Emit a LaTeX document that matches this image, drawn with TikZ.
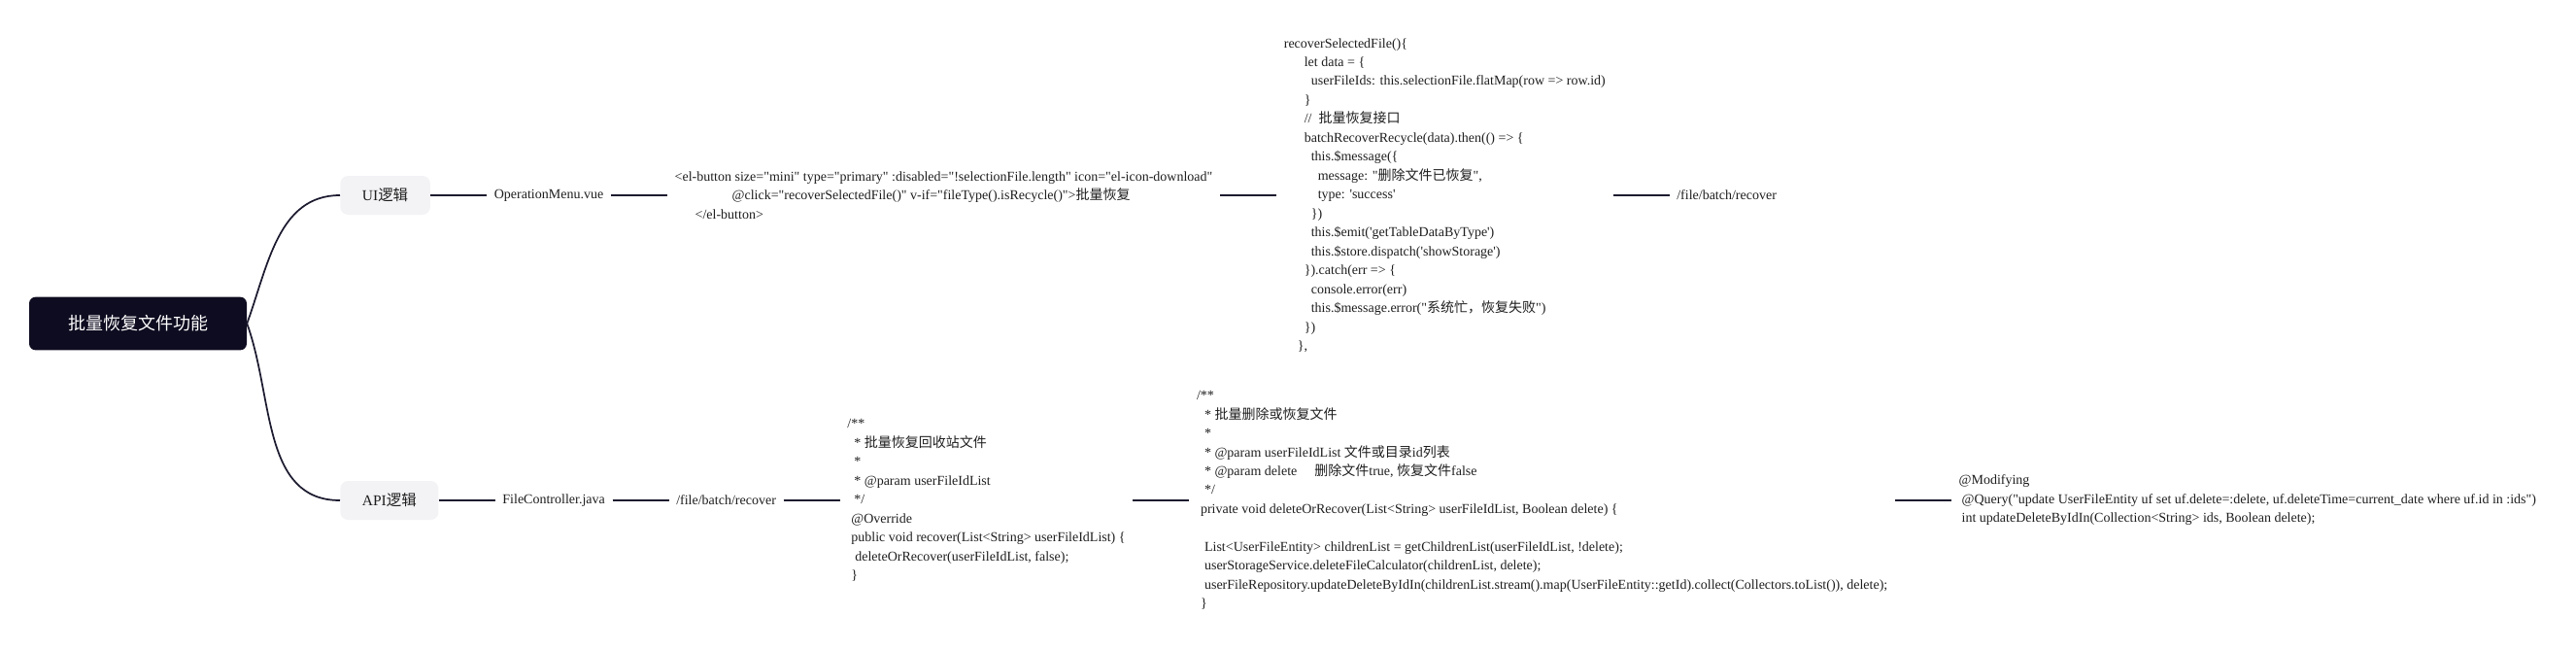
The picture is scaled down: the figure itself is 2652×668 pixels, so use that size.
\documentclass[tikz,border=0pt]{standalone}
\usepackage{fontspec}
\setmainfont{Liberation Serif}[Ligatures=TeXOff]
\newfontfamily\cjk{Noto Sans CJK SC}
\usepackage{xcolor}
\usetikzlibrary{positioning}

\definecolor{rootfill}{HTML}{0E0C20}
\definecolor{branchfill}{HTML}{F3F3F6}
\definecolor{linkcol}{HTML}{1C1B30}
\definecolor{codecol}{HTML}{1E1E1E}

\newlength{\pxu}
\setlength{\pxu}{0.75pt}
\newcommand{\zh}[1]{{\cjk #1}}
\newcommand{\ind}[1]{\hspace*{#1\pxu}}

\begin{document}
\begin{tikzpicture}[
    x=0.75pt, y=-0.75pt,
    node distance=43.5pt,
    rootbox/.style={rectangle, fill=rootfill, rounded corners=5pt, minimum width=168pt, minimum height=41pt, text=white, font=\cjk\fontsize{13.5}{16}\selectfont},
    branch/.style={rectangle, fill=branchfill, rounded corners=6pt, minimum height=30pt, inner xsep=17pt, text=codecol, font=\fontsize{11.6}{14}\selectfont},
    code/.style={rectangle, inner xsep=5.6pt, inner ysep=1pt, align=left, text=codecol, font=\fontsize{10.5}{14.6}\selectfont},
    link/.style={draw=linkcol, line width=1.5pt},
    twig/.style={draw=linkcol, line width=1.3pt}
]
    \useasboundingbox (0,0) rectangle (2652,668);

    \node [rootbox] (root) at (142,333) {批量恢复文件功能};
    \node [branch, anchor=west] (ui) at (350,201) {UI\zh{逻辑}};
    \node [branch, anchor=west] (api) at (350,515) {API\zh{逻辑}};

    % UI side
    \node [code, right=of ui] (opm) {OperationMenu.vue};
    \node [code, right=of opm] (btn) {<el-button size="mini" type="primary" :disabled="!selectionFile.length" icon="el-icon-download"\\
        \ind{59}@click="recoverSelectedFile()" v-if="fileType().isRecycle()">\zh{批量恢复}\\
        \ind{21}</el-button>};
    \node [code, right=of btn] (rsf) {recoverSelectedFile()\{\\
        \ind{21}let data = \{\\
        \ind{28}userFileIds: this.selectionFile.flatMap(row => row.id)\\
        \ind{21}\}\\
        \ind{21}//\ \ \zh{批量恢复接口}\\
        \ind{21}batchRecoverRecycle(data).then(() => \{\\
        \ind{28}this.\$message(\{\\
        \ind{35}message: "\zh{删除文件已恢复}",\\
        \ind{35}type: 'success'\\
        \ind{28}\})\\
        \ind{28}this.\$emit('getTableDataByType')\\
        \ind{28}this.\$store.dispatch('showStorage')\\
        \ind{21}\}).catch(err => \{\\
        \ind{28}console.error(err)\\
        \ind{28}this.\$message.error("\zh{系统忙，恢复失败}")\\
        \ind{21}\})\\
        \ind{14}\},};
    \node [code, right=of rsf] (urlui) {/file/batch/recover};

    % API side
    \node [code, right=of api] (fctl) {FileController.java};
    \node [code, right=of fctl] (urlapi) {/file/batch/recover};
    \node [code, right=of urlapi] (rec) {/**\\
        \ind{7}* \zh{批量恢复回收站文件}\\
        \ind{7}*\\
        \ind{7}* @param userFileIdList\\
        \ind{7}*/\\
        \ind{4}@Override\\
        \ind{4}public void recover(List<String> userFileIdList) \{\\
        \ind{8}deleteOrRecover(userFileIdList, false);\\
        \ind{4}\}};
    \node [code, right=of rec] (dor) {/**\\
        \ind{8}* \zh{批量删除或恢复文件}\\
        \ind{8}*\\
        \ind{8}* @param userFileIdList \zh{文件或目录}id\zh{列表}\\
        \ind{8}* @param delete\ind{18}\zh{删除文件}true, \zh{恢复文件}false\\
        \ind{8}*/\\
        \ind{4}private void deleteOrRecover(List<String> userFileIdList, Boolean delete) \{\\
        \mbox{}\\
        \ind{8}List<UserFileEntity> childrenList = getChildrenList(userFileIdList, !delete);\\
        \ind{8}userStorageService.deleteFileCalculator(childrenList, delete);\\
        \ind{8}userFileRepository.updateDeleteByIdIn(childrenList.stream().map(UserFileEntity::getId).collect(Collectors.toList()), delete);\\
        \ind{4}\}};
    \node [code, right=of dor] (upd) {@Modifying\\
        \ind{3}@Query("update UserFileEntity uf set uf.delete=:delete, uf.deleteTime=current\_date where uf.id in :ids")\\
        \ind{3}int updateDeleteByIdIn(Collection<String> ids, Boolean delete);};

    \draw [twig] (root.east) to[out=70, in=180] (ui.west);
    \draw [twig] (root.east) to[out=-70, in=180] (api.west);

    \draw [link] (ui) -- (opm);
    \draw [link] (opm) -- (btn);
    \draw [link] (btn) -- (rsf);
    \draw [link] (rsf) -- (urlui);

    \draw [link] (api) -- (fctl);
    \draw [link] (fctl) -- (urlapi);
    \draw [link] (urlapi) -- (rec);
    \draw [link] (rec) -- (dor);
    \draw [link] (dor) -- (upd);
\end{tikzpicture}
\end{document}
